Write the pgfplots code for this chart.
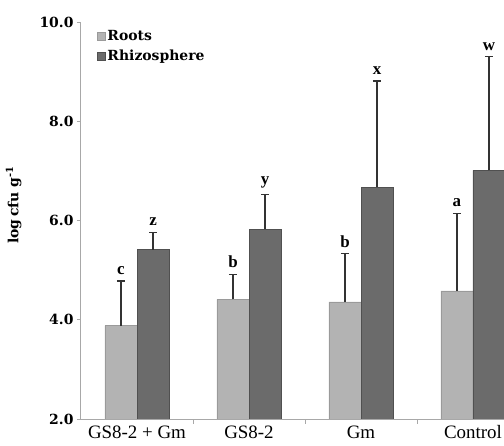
\documentclass[border=0pt]{standalone}
\usepackage{fontspec}
\setmainfont{Liberation Serif}
\newfontfamily\dvs{DejaVu Serif}
\usepackage{pgfplots}
\pgfplotsset{compat=1.18}
\usepackage{pgfplotstable}
\definecolor{rootc}{HTML}{B3B3B3}
\definecolor{rootd}{HTML}{9A9A9A}
\definecolor{rhizc}{HTML}{6B6B6B}
\definecolor{rhizd}{HTML}{505050}
\definecolor{axc}{HTML}{A8A8A8}
\definecolor{errc}{HTML}{333333}

% x positions: group centre -/+ half a bar (0.143 of a group)
\pgfplotstableread{
x val err lab
-0.143 3.88 0.90 c
0.857 4.41 0.50 b
1.857 4.36 0.97 b
2.857 4.58 1.56 a
}\roots

\pgfplotstableread{
x val err lab
0.143 5.41 0.35 z
1.143 5.82 0.70 y
2.143 6.67 2.14 x
3.143 7.01 2.29 w
}\rhizo

\pgfplotstableread{
x y lab
-0.143 4.78 c
0.857 4.91 b
1.857 5.33 b
2.857 6.14 a
0.143 5.76 z
1.143 6.52 y
2.143 8.81 x
3.143 9.30 w
}\letters

\begin{document}
\begin{tikzpicture}
\begin{axis}[
  scale only axis, width=423bp, height=397bp,
  xmin=-0.5, xmax=3.277, ymin=2, ymax=10,
  axis lines=left, axis line style={axc, line width=1bp, -},
  xtick={0,1,2,3}, xticklabels={GS8-2 + Gm, GS8-2, Gm, Control},
  major x tick style={draw=none},
  minor xtick={0.5,1.5,2.5},
  ytick={2,4,6,8,10}, yticklabels={2.0,4.0,6.0,8.0,10.0},
  tick align=outside, major tick length=4bp, minor tick length=5bp,
  tick style={axc, line width=0.8bp},
  xticklabel style={font=\fontsize{19}{21}\selectfont, yshift=1bp},
  yticklabel style={font=\dvs\bfseries\fontsize{14}{16}\selectfont},
  legend style={at={(0.03,0.99)}, anchor=north west, draw=none, fill=none,
    font=\dvs\bfseries\fontsize{14}{16}\selectfont, row sep=4bp,
    cells={anchor=west}},
  legend image code/.code={\fill[#1] (0bp,-4bp) rectangle (8bp,4bp);},
  error bars/error bar style={errc, line width=1.5bp},
  error bars/error mark options={errc, rotate=90, mark size=4bp, line width=1.5bp},
]
\addplot[ybar, bar width=32bp, bar shift=0pt, fill=rootc, draw=rootd, line width=0.6bp,
  error bars/.cd, y dir=plus, y explicit]
  table[x=x, y=val, y error=err] {\roots};
\addlegendentry{Roots}
\addplot[ybar, bar width=32bp, bar shift=0pt, fill=rhizc, draw=rhizd, line width=0.6bp,
  error bars/.cd, y dir=plus, y explicit]
  table[x=x, y=val, y error=err] {\rhizo};
\addlegendentry{Rhizosphere}
\addplot[only marks, mark=none, forget plot,
  nodes near coords, point meta=explicit symbolic,
  nodes near coords style={font=\bfseries\fontsize{17}{19}\selectfont, anchor=south, yshift=3bp}]
  table[x=x, y=y, meta=lab] {\letters};
\end{axis}
\node[rotate=90, anchor=south, font=\dvs\bfseries\fontsize{14}{16}\selectfont]
  at (-56bp,214bp) {log\,cfu g\textsuperscript{-1}};
\pgfresetboundingbox
\path[use as bounding box] (-81bp,-27bp) rectangle (423bp,419bp);
\end{tikzpicture}
\end{document}
